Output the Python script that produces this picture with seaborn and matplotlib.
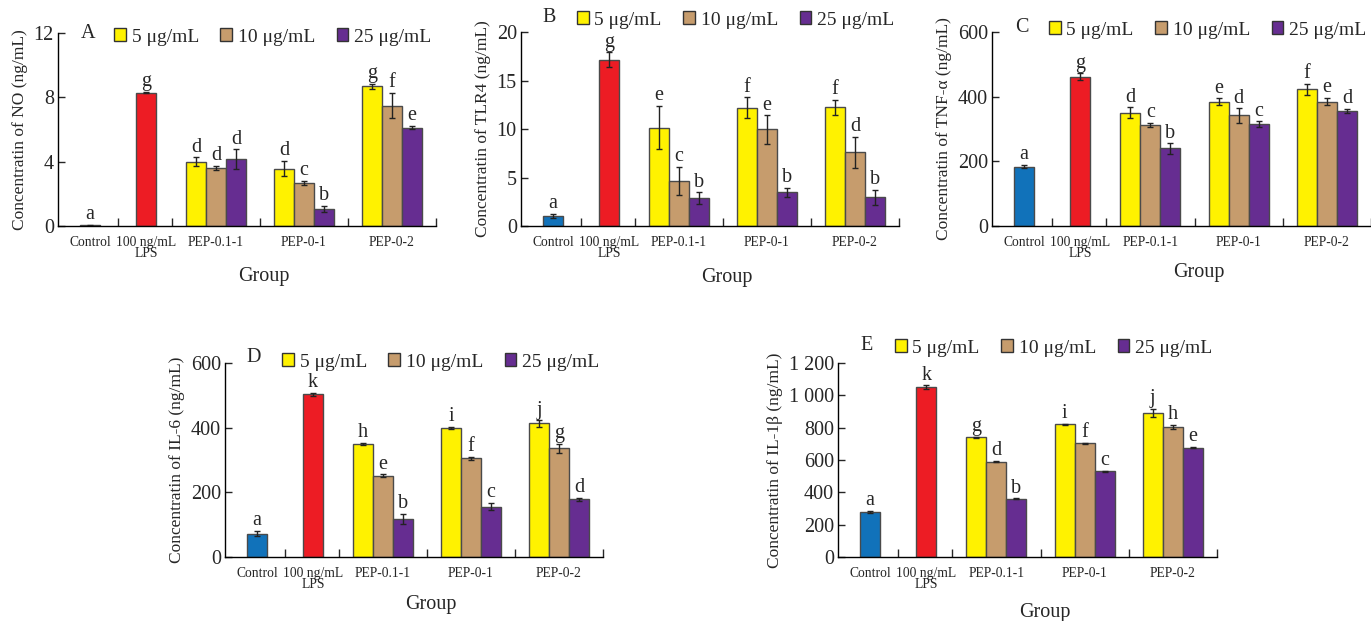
import numpy as np
import pandas as pd
import seaborn as sns
import matplotlib.pyplot as plt
from matplotlib.patches import Patch

sns.set_style("ticks")
plt.rcParams['font.family'] = ['Liberation Serif', 'DejaVu Serif']

# Gruplar ve dozlar
groups = ["Control", "100 ng/mL\nLPS", "PEP-0.1-1", "PEP-0-1", "PEP-0-2"]
doses = ["5 μg/mL", "10 μg/mL", "25 μg/mL"]

# bar sirasi: Control, LPS, PEP-0.1-1 (5,10,25), PEP-0-1 (5,10,25), PEP-0-2 (5,10,25)
no_mean = [0.06, 8.30, 4.01, 3.61, 4.15, 3.57, 2.68, 1.06, 8.68, 7.49, 6.12]
no_sd = [0.03, 0.05, 0.25, 0.15, 0.62, 0.47, 0.12, 0.20, 0.15, 0.78, 0.09]
no_let = ["a", "g", "d", "d", "d", "d", "c", "b", "g", "f", "e"]

tlr_mean = [1.03, 17.15, 10.15, 4.63, 2.85, 12.21, 9.95, 3.50, 12.25, 7.58, 2.95]
tlr_sd = [0.24, 0.74, 2.23, 1.46, 0.62, 1.06, 1.46, 0.46, 0.77, 1.58, 0.75]
tlr_let = ["a", "g", "e", "c", "b", "f", "e", "b", "f", "d", "b"]

tnf_mean = [184, 462, 350, 313, 240, 384, 342, 315, 423, 385, 355]
tnf_sd = [6, 10, 17, 7, 16, 11, 22, 9, 17, 12, 7]
tnf_let = ["a", "g", "d", "c", "b", "e", "d", "c", "f", "e", "d"]

il6_mean = [72, 503, 349, 252, 117, 400, 305, 156, 413, 336, 179]
il6_sd = [8, 5, 4, 4, 16, 3, 4, 11, 10, 13, 5]
il6_let = ["a", "k", "h", "e", "b", "i", "f", "c", "j", "g", "d"]

il1b_mean = [279, 1050, 740, 590, 360, 822, 705, 530, 890, 805, 676]
il1b_sd = [5, 12, 5, 3, 3, 3, 3, 3, 27, 14, 4]
il1b_let = ["a", "k", "g", "d", "b", "i", "f", "c", "j", "h", "e"]

# Renkler
pal = {"Control": "#1172BA", "LPS": "#ED1C24",
       doses[0]: "#FFF200", doses[1]: "#C69C6D", doses[2]: "#662D91"}

# Yerlesim (bar genisligi = 1 birim)
group_x = [1.6, 4.4, 7.9, 12.3, 16.7]
bounds = [3.0, 5.7, 10.1, 14.5, 18.9]

bar_pos = [group_x[0], group_x[1]]
series = ["Control", "LPS"]
for gx in group_x[2:]:
    for k, d in enumerate(doses):
        bar_pos.append(gx + k - 1)
        series.append(d)

panels = [
    dict(tag="A", mean=no_mean, sd=no_sd, let=no_let, ylab="Concentratin of NO (ng/mL)",
         yticks=[0, 4, 8, 12], rect=[58, 33, 378, 193], leg=(114, 37), tagxy=(88, 33), gy=-0.263),
    dict(tag="B", mean=tlr_mean, sd=tlr_sd, let=tlr_let, ylab="Concentratin of TLR4 (ng/mL)",
         yticks=[0, 5, 10, 15, 20], rect=[521, 32, 378, 194], leg=(577, 20), tagxy=(549, 17), gy=-0.268),
    dict(tag="C", mean=tnf_mean, sd=tnf_sd, let=tnf_let, ylab="Concentratin of TNF-α (ng/mL)",
         yticks=[0, 200, 400, 600], rect=[992, 32, 379, 194], leg=(1049, 30), tagxy=(1022, 27), gy=-0.242),
    dict(tag="D", mean=il6_mean, sd=il6_sd, let=il6_let, ylab="Concentratin of IL-6 (ng/mL)",
         yticks=[0, 200, 400, 600], rect=[225, 363, 378, 194], leg=(282, 362), tagxy=(254, 358), gy=-0.247),
    dict(tag="E", mean=il1b_mean, sd=il1b_sd, let=il1b_let, ylab="Concentratin of IL-1β (ng/mL)",
         yticks=[0, 200, 400, 600, 800, 1000, 1200], rect=[838, 363, 379, 194], leg=(895, 348), tagxy=(867, 345), gy=-0.284),
]

W, H = 1371, 621
fig = plt.figure(figsize=(W / 100, H / 100), dpi=100)

for p in panels:
    l, t, w, h = p["rect"]
    ax = fig.add_axes([l / W, 1 - (t + h) / H, w / W, h / H])
    df = pd.DataFrame({"pos": bar_pos, "value": p["mean"], "series": series})
    sns.barplot(data=df, x="pos", y="value", hue="series", native_scale=True, dodge=False,
                palette=pal, saturation=1, width=1, errorbar=None, edgecolor="#4a4a4a",
                linewidth=1, legend=False, ax=ax)
    ax.errorbar(df["pos"], df["value"], yerr=p["sd"], fmt="none", ecolor="#222222",
                elinewidth=1, capsize=2.5, capthick=1)
    for x, v, s, lt in zip(df["pos"], df["value"], p["sd"], p["let"]):
        ax.annotate(lt, (x, v + s), xytext=(0, 0.5), textcoords="offset points",
                    ha="center", va="bottom", fontsize=14.5)

    ax.set_xlim(0, bounds[-1])
    ax.set_ylim(p["yticks"][0], p["yticks"][-1])
    ax.set_yticks(p["yticks"])
    ax.set_yticklabels([f"{v:,}".replace(",", " ") for v in p["yticks"]])
    ax.set_xticks(group_x)
    ax.set_xticklabels(groups, linespacing=0.85)
    ax.set_xticks(bounds, minor=True)
    ax.tick_params(axis="x", which="major", length=0, labelsize=9.8, pad=7)
    ax.tick_params(axis="x", which="minor", direction="in", length=6, width=1)
    ax.tick_params(axis="y", direction="in", length=5, width=1, labelsize=14.5, pad=3)
    for side in ["top", "right"]:
        ax.spines[side].set_visible(False)
    for side in ["left", "bottom"]:
        ax.spines[side].set_linewidth(1)
        ax.spines[side].set_color("black")

    ax.set_ylabel(p["ylab"], fontsize=12.5, labelpad=4)
    ax.set_xlabel("Group", fontsize=14.5, va="center")
    ax.xaxis.set_label_coords(0.545, p["gy"])

    handles = [Patch(facecolor=pal[d], edgecolor="#333333", linewidth=1) for d in doses]
    lx, ly = p["leg"]
    fig.legend(handles, doses, loc="center left", bbox_to_anchor=(lx / W, 1 - ly / H),
               ncol=3, frameon=False, fontsize=14, handlelength=0.6, handleheight=0.6,
               handletextpad=0.3, columnspacing=1.1, borderpad=0, borderaxespad=0)
    tx, ty = p["tagxy"]
    fig.text(tx / W, 1 - ty / H, p["tag"], ha="center", va="center", fontsize=14.5)

plt.savefig("out.png", dpi=100)
